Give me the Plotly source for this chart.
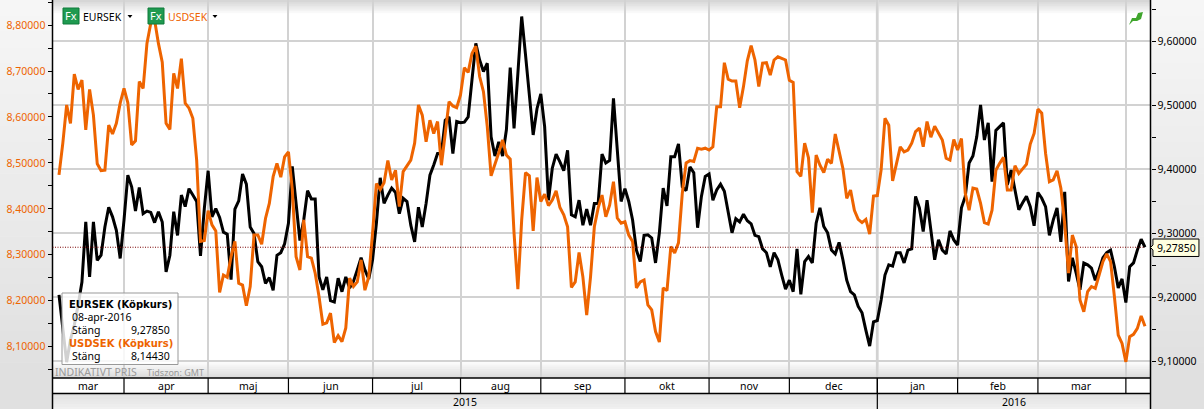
import plotly.graph_objects as go

EURSEK = [
9.204,9.149,9.099,9.134,9.157,9.188,9.224,9.318,9.232,9.318,
9.258,9.266,9.310,9.341,9.326,9.305,9.261,9.321,9.391,9.373,
9.335,9.372,9.331,9.335,9.333,9.317,9.334,9.318,9.240,9.266,
9.334,9.297,9.360,9.342,9.370,9.360,9.350,9.265,9.339,9.398,
9.326,9.339,9.325,9.302,9.299,9.228,9.338,9.351,9.393,9.377,
9.310,9.300,9.256,9.248,9.222,9.231,9.211,9.266,9.270,9.284,
9.316,9.405,9.352,9.289,9.321,9.367,9.354,9.354,9.2325,9.212,
9.232,9.195,9.193,9.230,9.209,9.232,9.215,9.225,9.243,9.262,
9.243,9.229,9.259,9.316,9.387,9.347,9.360,9.371,9.364,9.331,
9.355,9.350,9.313,9.287,9.341,9.310,9.347,9.391,9.407,9.425,
9.425,9.477,9.482,9.425,9.475,9.473,9.474,9.482,9.540,9.597,
9.571,9.553,9.566,9.451,9.421,9.443,9.421,9.462,9.559,9.464,
9.550,9.639,9.579,9.519,9.454,9.495,9.518,9.467,9.352,9.402,
9.424,9.412,9.398,9.430,9.329,9.326,9.352,9.313,9.338,9.313,
9.347,9.347,9.424,9.410,9.414,9.511,9.428,9.350,9.370,9.350,
9.321,9.274,9.256,9.297,9.298,9.293,9.254,9.301,9.371,9.343,
9.420,9.420,9.440,9.373,9.367,9.404,9.395,9.309,9.358,9.389,
9.393,9.352,9.368,9.377,9.366,9.332,9.301,9.323,9.318,9.330,
9.320,9.315,9.297,9.295,9.276,9.270,9.248,9.270,9.259,9.235,
9.213,9.227,9.209,9.276,9.205,9.256,9.264,9.254,9.316,9.340,
9.311,9.301,9.274,9.268,9.286,9.259,9.227,9.209,9.204,9.186,
9.176,9.149,9.124,9.162,9.164,9.196,9.235,9.251,9.249,9.270,
9.270,9.254,9.274,9.276,9.358,9.340,9.303,9.352,9.305,9.259,
9.290,9.274,9.268,9.304,9.290,9.282,9.340,9.358,9.410,9.421,
9.451,9.501,9.446,9.473,9.381,9.461,9.467,9.473,9.376,9.399,
9.368,9.337,9.348,9.358,9.342,9.312,9.364,9.355,9.342,9.297,
9.321,9.340,9.287,9.365,9.225,9.262,9.238,9.212,9.254,9.251,
9.246,9.227,9.243,9.262,9.270,9.274,9.248,9.215,9.229,9.192,
9.248,9.254,9.274,9.291,9.2785]

USDSEK = [
8.474,8.543,8.626,8.586,8.693,8.660,8.680,8.572,8.660,8.604,
8.498,8.483,8.484,8.582,8.563,8.586,8.630,8.662,8.631,8.539,
8.548,8.677,8.662,8.760,8.804,8.811,8.760,8.719,8.586,8.573,
8.695,8.662,8.727,8.630,8.619,8.597,8.506,8.329,8.331,8.396,
8.365,8.352,8.218,8.256,8.251,8.296,8.329,8.238,8.234,8.189,
8.231,8.343,8.343,8.323,8.379,8.412,8.470,8.499,8.469,8.513,
8.524,8.443,8.296,8.267,8.376,8.296,8.293,8.260,8.209,8.149,
8.152,8.173,8.109,8.124,8.111,8.141,8.249,8.231,8.241,8.289,
8.223,8.252,8.347,8.455,8.442,8.457,8.505,8.463,8.484,8.405,
8.481,8.494,8.506,8.543,8.626,8.604,8.546,8.593,8.564,8.590,
8.495,8.564,8.633,8.624,8.620,8.648,8.707,8.697,8.738,8.754,
8.688,8.655,8.579,8.472,8.495,8.522,8.550,8.517,8.508,8.347,
8.225,8.376,8.479,8.472,8.352,8.468,8.416,8.432,8.407,8.419,
8.439,8.403,8.387,8.361,8.229,8.241,8.305,8.252,8.169,8.252,
8.361,8.402,8.430,8.383,8.408,8.459,8.380,8.369,8.372,8.343,
8.329,8.228,8.241,8.245,8.191,8.180,8.133,8.110,8.228,8.222,
8.318,8.304,8.326,8.434,8.500,8.505,8.503,8.532,8.530,8.532,
8.528,8.535,8.622,8.622,8.718,8.682,8.678,8.678,8.620,8.666,
8.722,8.755,8.724,8.666,8.717,8.718,8.691,8.724,8.731,8.728,
8.724,8.680,8.675,8.481,8.471,8.543,8.511,8.392,8.517,8.495,
8.479,8.508,8.499,8.563,8.528,8.488,8.423,8.441,8.397,8.377,
8.370,8.377,8.345,8.428,8.429,8.485,8.597,8.582,8.461,8.499,
8.535,8.524,8.528,8.543,8.568,8.576,8.535,8.590,8.556,8.580,
8.565,8.550,8.510,8.506,8.551,8.528,8.553,8.434,8.397,8.445,
8.443,8.412,8.370,8.367,8.397,8.484,8.499,8.512,8.441,8.441,
8.494,8.477,8.487,8.497,8.541,8.564,8.617,8.608,8.521,8.459,
8.463,8.483,8.445,8.368,8.260,8.343,8.318,8.202,8.176,8.220,
8.231,8.227,8.256,8.285,8.302,8.285,8.209,8.125,8.107,8.067,
8.122,8.127,8.140,8.167,8.1443]

MONTH_LABELS = ["mar","apr","maj","jun","jul","aug","sep","okt","nov","dec","jan","feb","mar"]
MONTH_STARTS = [17,39,60,82,105,126,148,170,191,214,235,256,279]  # trading-day index of each month's first day
YEAR_LABELS = ["2015","2016"]
LAST_DATE = "08-apr-2016"
LAST_EUR = "9,27850"
LAST_USD = "8,14430"

assert len(EURSEK) == 285 and len(USDSEK) == 285

W, H = 1204, 409
L, R, B = 52.5, 1150.5, 378
ORANGE = "#ee6400"
FONT = "Noto Sans"
XMIN, XMAX = -1.70, 285.44
px = lambda x: x / W
py = lambda y: 1 - y / H


def hexmix(a, b, t):
    c = [round(a[i] + (b[i] - a[i]) * t) for i in range(3)]
    return "rgb(%d,%d,%d)" % tuple(c)


shapes, ann = [], []


def rect(x0, y0, x1, y1, fill, line=None, lw=1, layer="below"):
    shapes.append(dict(type="rect", xref="paper", yref="paper", x0=px(x0), x1=px(x1), y0=py(y0), y1=py(y1),
                       fillcolor=fill, line=dict(color=line, width=lw) if line else dict(width=0), layer=layer))


def seg(x0, y0, x1, y1, color="black", w=1.5, layer="above"):
    shapes.append(dict(type="line", xref="paper", yref="paper", x0=px(x0), x1=px(x1), y0=py(y0), y1=py(y1),
                       line=dict(color=color, width=w), layer=layer))


def path(points, fill, line=None, lw=1, layer="above"):
    d = "M" + " L".join("%.4f,%.4f" % (px(a), py(b)) for a, b in points) + " Z"
    shapes.append(dict(type="path", xref="paper", yref="paper", path=d, fillcolor=fill,
                       line=dict(color=line, width=lw) if line else dict(width=0), layer=layer))


def text(x, y, s, size=11, color="black", anchor="left", bold=False, ref="paper", family=FONT):
    ann.append(dict(xref=ref, yref="paper", x=px(x) if ref == "paper" else x, y=py(y), text=f"<b>{s}</b>" if bold else s,
                    showarrow=False, xanchor=anchor, yanchor="middle",
                    font=dict(family=family, size=size, color=color), borderpad=0, borderwidth=0))


# side panels: vertical gradient
N = 24
for k in range(N):
    y0, y1 = B * k / N, B * (k + 1) / N + .5
    c = hexmix((246, 246, 246), (224, 224, 224), k / (N - 1))
    rect(0, y0, L, y1, c)
    rect(R, y0, W, y1, c)
rect(0, B, L, H, "#e0e0e0")
rect(R, B, W, H, "#e0e0e0")
# plot top and bottom shading
for k in range(8):
    rect(L, 15 * k / 8, R, 15 * (k + 1) / 8 + .5, hexmix((214, 214, 214), (255, 255, 255), k / 7), layer="below")
    rect(L, 360 + 18 * k / 8, R, 360 + 18 * (k + 1) / 8 + .5, hexmix((255, 255, 255), (220, 220, 220), k / 7), layer="below")
# date rows
rect(L, B, R, 393.5, "white")
for k in range(6):
    rect(L, 393.5 + 16 * k / 6, R, 393.5 + 16 * (k + 1) / 6 + .5, hexmix((226, 226, 226), (240, 240, 240), k / 5))
seg(L, B, R, B)
seg(L, 393.5, R, 393.5)
seg(L, 0, L, H)
seg(R, 0, R, H)

for m in MONTH_STARTS:
    shapes.append(dict(type="line", xref="x", yref="paper", x0=m, x1=m, y0=py(B), y1=py(393.5),
                       line=dict(color="black", width=1.2), layer="above"))
# year boundary: first month start labelled "jan" (the first label has no start of its own)
edges = [XMIN] + MONTH_STARTS
yb = edges[MONTH_LABELS.index("jan")]
shapes.append(dict(type="line", xref="x", yref="paper", x0=yb, x1=yb, y0=py(0), y1=py(B),
                   line=dict(color="#dcdcdc", width=3), layer="below"))
shapes.append(dict(type="line", xref="x", yref="paper", x0=yb, x1=yb, y0=py(B), y1=py(H),
                   line=dict(color="black", width=1.2), layer="above"))

# month & year labels
for i, lab in enumerate(MONTH_LABELS):
    text((edges[i] + edges[i + 1]) / 2, 386, lab, size=10.5, anchor="center", ref="x")
text((XMIN + yb) / 2, 401.5, YEAR_LABELS[0], size=10.5, anchor="center", ref="x")
text((yb + XMAX) / 2, 401.5, YEAR_LABELS[1], size=10.5, anchor="center", ref="x")

# last-value dotted line
shapes.append(dict(type="line", xref="x", yref="y", x0=XMIN, x1=len(EURSEK) - 1, y0=EURSEK[-1], y1=EURSEK[-1],
                   line=dict(color="#7a0000", width=1, dash="1px,1.5px"), layer="above"))
path([(1153, 239), (1199, 239), (1199, 256.5), (1153, 256.5), (1153, 250), (1150.5, 247.5), (1153, 245)],
     "#ffffe0", "black", 1)
text(1176, 248, LAST_EUR, size=10.5, anchor="center")

# legend-like toolbar
for x0, lab, col in [(63, "EURSEK", "black"), (148, "USDSEK", ORANGE)]:
    rect(x0, 8, x0 + 16, 24, "#1f9a50", "#0f7a3a", 1, layer="above")
    text(x0 + 8, 16, "Fx", size=11, color="white", anchor="center")
    text(x0 + 20, 17, lab, size=10.5, color=col)
    tx = x0 + 67
    path([(tx - 2.5, 15), (tx + 2.5, 15), (tx, 18)], "black")

# green arrow
path([(1129, 25), (1132, 18), (1136, 18), (1138, 13), (1143, 12), (1141, 19), (1137, 21), (1133, 21)], "#3fa52c")

# footer text
text(55, 372, "INDIKATIVT PRIS", size=10.5, color="#9a9a9a")
text(147, 372, "Tidszon: GMT", size=9, color="#9a9a9a")

# tooltip
rect(62, 293, 178, 364.5, "rgba(255,255,255,0.82)", "#999999", 1, layer="above")
text(69, 304, "EURSEK (Köpkurs)", size=10, bold=True, family="DejaVu Sans")
text(72, 317, LAST_DATE, size=10.5)
text(72, 330, "Stäng", size=10.5)
text(170, 330, LAST_EUR, size=10.5, anchor="right")
text(69, 343, "USDSEK (Köpkurs)", size=10, color=ORANGE, bold=True, family="DejaVu Sans")
text(72, 356, "Stäng", size=10.5)
text(170, 356, LAST_USD, size=10.5, anchor="right")

xs = list(range(len(EURSEK)))
fig = go.Figure()
fig.add_trace(go.Scatter(x=xs, y=EURSEK, name="EURSEK", mode="lines", yaxis="y",
                         line=dict(color="black", width=3, shape="linear")))
fig.add_trace(go.Scatter(x=xs, y=USDSEK, name="USDSEK", mode="lines", yaxis="y2",
                         line=dict(color=ORANGE, width=3, shape="linear")))

fig.update_layout(
    width=W, height=H, margin=dict(l=0, r=0, t=0, b=0), autosize=False,
    showlegend=False, paper_bgcolor="white", plot_bgcolor="white", separators=",.",
    font=dict(family=FONT, size=10.5, color="black"),
    xaxis=dict(domain=[px(L), px(R)], range=[XMIN, XMAX], tickmode="array", tickvals=MONTH_STARTS,
               showticklabels=False, ticks="", showgrid=True, gridcolor="#d2d2d2", gridwidth=1.5, zeroline=False),
    yaxis=dict(domain=[py(B), 1], range=[9.0742, 9.6648], side="right", tick0=9.0, dtick=0.1, tickformat=".5f",
               showgrid=True, gridcolor="#d2d2d2", gridwidth=1.5, zeroline=False, ticks="outside", ticklen=4,
               tickcolor="black", tickfont=dict(size=10.5, color="black", family=FONT),
               minor=dict(tick0=9.0, dtick=0.05, ticks="outside", ticklen=4, tickcolor="black", showgrid=False)),
    yaxis2=dict(domain=[py(B), 1], range=[8.0319, 8.8545], side="left", overlaying="y", anchor="x", tick0=8.0, dtick=0.1,
                tickformat=".5f", showgrid=False, zeroline=False, ticks="outside", ticklen=4, tickcolor="black",
                tickfont=dict(size=10.5, color=ORANGE, family=FONT),
                minor=dict(tick0=8.0, dtick=0.05, ticks="outside", ticklen=4, tickcolor="black", showgrid=False)),
    shapes=shapes, annotations=ann,
)
fig.write_html("out.html", config={"displayModeBar": False},
               post_script="document.body.style.margin='0';document.body.style.overflow='hidden';")
